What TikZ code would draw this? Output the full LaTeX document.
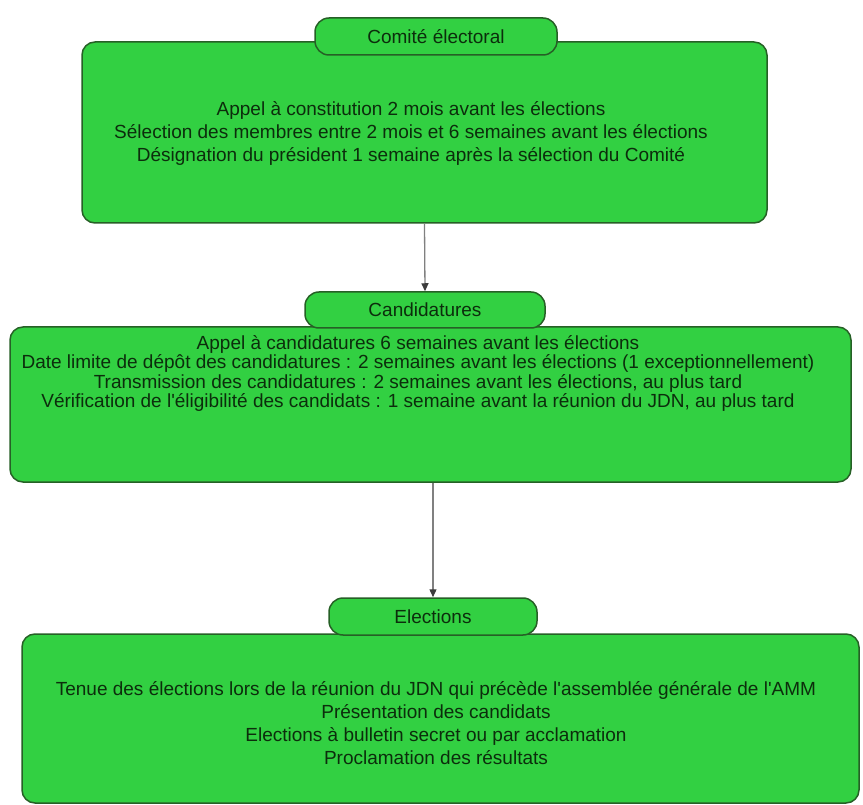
\documentclass[tikz,border=0pt]{standalone}
\usepackage{fontspec}
\setmainfont{Liberation Sans}
\usetikzlibrary{arrows.meta}
\definecolor{boxgreen}{RGB}{50,208,66}
\definecolor{edgegreen}{RGB}{38,96,38}
\definecolor{txtgreen}{RGB}{12,45,12}
\definecolor{linegray}{RGB}{128,128,128}
\definecolor{tipgray}{RGB}{60,60,60}
\tikzset{
  bigbox/.style={draw=edgegreen, fill=boxgreen, line width=1.5pt, rounded corners=13pt, inner sep=0pt},
  pill/.style={draw=edgegreen, fill=boxgreen, line width=1.5pt, rounded corners=14pt, inner sep=0pt,
    font=\fontsize{19}{23}\selectfont, text=txtgreen},
  bodytext/.style={align=center, font=\fontsize{19}{23}\selectfont, text=txtgreen, inner sep=0pt},
  flow/.style={draw=linegray, line width=1.3pt, -{Triangle[length=8pt,width=7pt,color=tipgray]}}
}
\begin{document}
\begin{tikzpicture}[x=1pt,y=-1pt]
\useasboundingbox (0,0) rectangle (863,805);
% boxes
\node[bigbox, minimum width=685pt, minimum height=181pt] (box1) at (424.5,132.5) {};
\node[bigbox, minimum width=841pt, minimum height=155pt] (box2) at (430.5,404.5) {};
\node[bigbox, minimum width=837pt, minimum height=169pt] (box3) at (440.5,718.5) {};
% headers
\node[pill, minimum width=242pt, minimum height=37pt] (pill1) at (436,36.5) {Comité électoral};
\node[pill, minimum width=240pt, minimum height=36pt] (pill2) at (425,310) {Candidatures};
\node[pill, minimum width=208pt, minimum height=37pt] (pill3) at (433,616.5) {Elections};
% texts
\node[bodytext] (t1) at (411,133.5) {Appel à constitution 2 mois avant les élections\\
Sélection des membres entre 2 mois et 6 semaines avant les élections\\
Désignation du président 1 semaine après la sélection du Comité};
\node[bodytext, font=\fontsize{19}{19.5}\selectfont] (t2) at (418,373.5) {Appel à candidatures 6 semaines avant les élections\\
Date limite de dépôt des candidatures : 2 semaines avant les élections (1 exceptionnellement)\\
Transmission des candidatures : 2 semaines avant les élections, au plus tard\\
Vérification de l\textquotesingle éligibilité des candidats : 1 semaine avant la réunion du JDN, au plus tard};
\node[bodytext] (t3) at (436,723) {Tenue des élections lors de la réunion du JDN qui précède l\textquotesingle assemblée générale de l\textquotesingle AMM\\
Présentation des candidats\\
Elections à bulletin secret ou par acclamation\\
Proclamation des résultats};
% connectors
\draw[flow] (box1.south) -- (pill2.north);
\draw[flow] (box2.south -| pill3.north) -- (pill3.north);
\end{tikzpicture}
\end{document}
